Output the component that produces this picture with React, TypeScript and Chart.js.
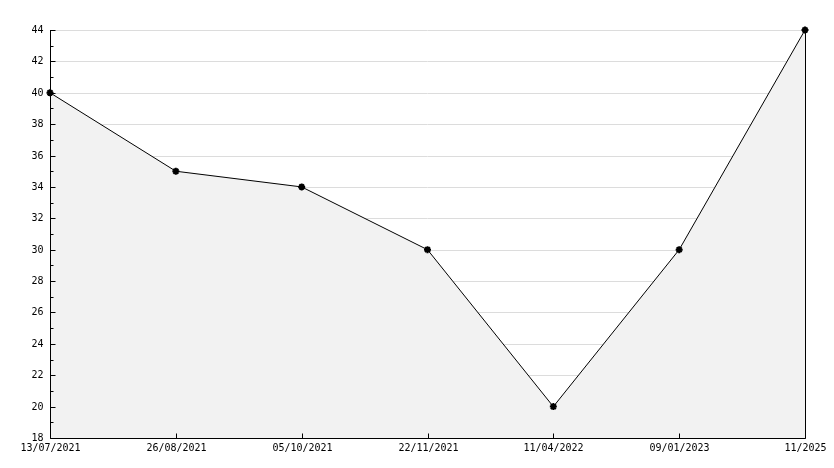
import React, { useEffect, useRef } from "react";
import { Chart, registerables } from "chart.js";

Chart.register(...registerables);

const categories = ["13/07/2021", "26/08/2021", "05/10/2021", "22/11/2021", "11/04/2022", "09/01/2023", "11/2025"];
const values = [40, 35, 34, 30, 20, 30, 44];
const yMin = 18;
const yMax = 44;
const yMajorStep = 2;

const FONT = "10px 'DejaVu Sans Mono', monospace";

const axesPlugin = {
  id: "customAxes",
  beforeDatasetsDraw(chart: any) {
    const { ctx, chartArea } = chart;
    const y = chart.scales.y;
    ctx.save();
    ctx.strokeStyle = "#dcdcdc";
    ctx.lineWidth = 1;
    for (let v = yMin + yMajorStep; v <= yMax; v += yMajorStep) {
      const py = Math.round(y.getPixelForValue(v)) + 0.5;
      ctx.beginPath();
      ctx.moveTo(chartArea.left, py);
      ctx.lineTo(chartArea.right, py);
      ctx.stroke();
    }
    ctx.restore();
  },
  afterDatasetsDraw(chart: any) {
    const { ctx, chartArea } = chart;
    const x = chart.scales.x;
    const y = chart.scales.y;
    const L = Math.round(chartArea.left) + 0.5;
    const R = Math.round(chartArea.right) + 0.5;
    const B = Math.round(chartArea.bottom) + 0.5;
    const T = Math.round(chartArea.top);
    ctx.save();
    ctx.strokeStyle = "#000";
    ctx.lineWidth = 1;
    ctx.beginPath();
    ctx.moveTo(L, T);
    ctx.lineTo(L, B);
    ctx.lineTo(R, B);
    ctx.moveTo(R, T);
    ctx.lineTo(R, B);
    ctx.stroke();
    // y ticks
    ctx.font = FONT;
    ctx.fillStyle = "#000";
    ctx.textAlign = "right";
    ctx.textBaseline = "middle";
    for (let v = yMin; v <= yMax; v += 1) {
      const py = Math.round(y.getPixelForValue(v)) + 0.5;
      const major = (v - yMin) % yMajorStep === 0;
      ctx.beginPath();
      ctx.moveTo(L, py);
      ctx.lineTo(L + (major ? 5 : 3), py);
      ctx.stroke();
      if (major) ctx.fillText(String(v), L - 7, py);
    }
    // x ticks
    ctx.textAlign = "center";
    ctx.textBaseline = "top";
    categories.forEach((c, i) => {
      const px = Math.round(x.getPixelForValue(i)) + 0.5;
      ctx.beginPath();
      ctx.moveTo(px, B);
      ctx.lineTo(px, B - 5);
      ctx.stroke();
      ctx.fillText(c, px, B + 5);
    });
    ctx.restore();
  },
};

export default function App() {
  const ref = useRef<HTMLCanvasElement>(null);
  useEffect(() => {
    if (!ref.current) return;
    const chart = new Chart(ref.current, {
      type: "line",
      data: {
        labels: categories,
        datasets: [
          {
            data: values,
            borderColor: "#000",
            borderWidth: 1,
            backgroundColor: "#f2f2f2",
            fill: "start",
            tension: 0,
            clip: false,
            pointStyle: "star",
            pointRadius: 3.5,
            pointBorderWidth: 2,
            pointBorderColor: "#000",
            pointBackgroundColor: "#000",
          },
        ],
      },
      options: {
        animation: false,
        responsive: false,
        devicePixelRatio: 1,
        layout: { padding: { left: 50, right: 29, top: 30, bottom: 30 } },
        plugins: { legend: { display: false }, tooltip: { enabled: false } },
        scales: {
          x: { type: "category", display: false, offset: false },
          y: { display: false, min: yMin, max: yMax },
        },
      },
      plugins: [axesPlugin],
    });
    return () => chart.destroy();
  }, []);
  return (
    <div style={{ position: "fixed", left: 0, top: 0, width: 834, height: 468, background: "#fff" }}>
      <canvas ref={ref} width={834} height={468} style={{ width: 834, height: 468 }} />
    </div>
  );
}
